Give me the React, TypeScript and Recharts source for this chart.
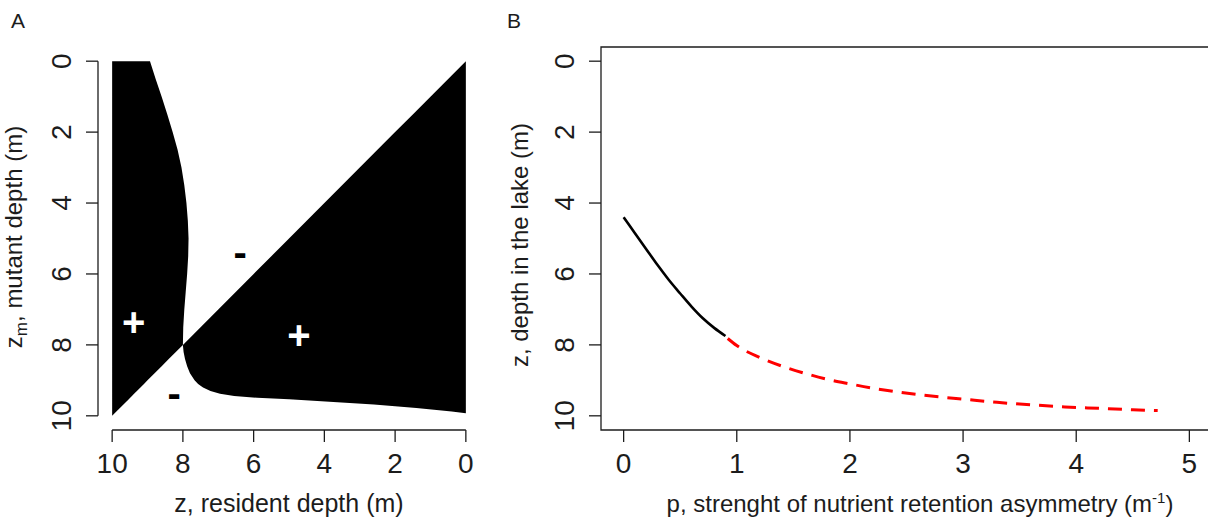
import React from 'react';
import {
  ComposedChart,
  Area,
  Line,
  XAxis,
  YAxis,
  ReferenceLine,
  ReferenceDot,
  ReferenceArea,
} from 'recharts';

const FONT = '"Liberation Sans", Arial, Helvetica, sans-serif';
const INK = '#1c1c1c';

// ---- Panel A: pairwise invasibility plot, sampled along mutant depth zm ----
const mutantDepth = [
  0, 0.5, 1, 1.5, 2, 2.5, 3, 3.5, 4, 4.5, 5, 5.5, 6, 6.5, 7, 7.5, 8,
  8.2, 8.4, 8.6, 8.8, 9.0, 9.1, 9.2, 9.3, 9.38, 9.44, 9.49, 9.53, 9.58, 9.63, 9.68, 9.73,
  9.78, 9.83, 9.88, 9.93, 10,
];
// resident depth where the left "+" region begins (it runs out to z = 10)
const leftRegionEdge = [
  8.93, 8.77, 8.6, 8.44, 8.29, 8.15, 8.04, 7.96, 7.9, 7.86, 7.84, 7.85, 7.88, 7.92, 7.96, 7.99, 8.0,
  8.2, 8.4, 8.6, 8.8, 9.0, 9.1, 9.2, 9.3, 9.38, 9.44, 9.49, 9.53, 9.58, 9.63, 9.68, 9.73,
  9.78, 9.83, 9.88, 9.93, 10,
];
// resident depth where the right "+" region ends (it starts at z = 0)
const rightRegionEdge = [
  0, 0.5, 1, 1.5, 2, 2.5, 3, 3.5, 4, 4.5, 5, 5.5, 6, 6.5, 7, 7.5, 8,
  7.98, 7.94, 7.88, 7.8, 7.67, 7.57, 7.43, 7.22, 6.95, 6.55, 5.9, 5.0, 4.2, 3.4, 2.6, 2.0,
  1.4, 0.9, 0.4, 0.0, 0,
];

const signLabels = [
  { z: 9.39, zm: 7.34, text: '+', color: '#ffffff' },
  { z: 4.72, zm: 7.71, text: '+', color: '#ffffff' },
  { z: 6.38, zm: 5.37, text: '-', color: '#000000' },
  { z: 8.25, zm: 9.34, text: '-', color: '#000000' },
];

// ---- Panel B: singular strategy depth vs retention asymmetry ----
const pStable = [0, 0.1, 0.2, 0.3, 0.4, 0.5, 0.6, 0.7, 0.8, 0.9];
const zStable = [4.4, 4.85, 5.3, 5.75, 6.17, 6.55, 6.92, 7.25, 7.52, 7.75];
const pUnstable = [
  0.92, 1.0, 1.2, 1.4, 1.6, 1.8, 2.0, 2.2, 2.4, 2.6, 2.8, 3.0, 3.3, 3.6, 3.9, 4.2, 4.5, 4.72,
];
const zUnstable = [
  7.82, 8.02, 8.35, 8.6, 8.8, 8.97, 9.1, 9.22, 9.32, 9.4, 9.47, 9.53, 9.62, 9.69, 9.75, 9.79, 9.83, 9.85,
];

const depthTicks = [0, 2, 4, 6, 8, 10];
const pTicks = [0, 1, 2, 3, 4, 5];

const pipRows = mutantDepth.map((zm, i) => ({
  zm,
  left: [leftRegionEdge[i], 10],
  right: [0, rightRegionEdge[i]],
}));
const stableRows = pStable.map((p, i) => ({ p, z: zStable[i] }));
const unstableRows = pUnstable.map((p, i) => ({ p, z: zUnstable[i] }));

const XTick = ({ x, y, payload }: any) => (
  <text x={x} y={y + 31} textAnchor="middle" fontSize={28} fontFamily={FONT} fill={INK}>
    {payload.value}
  </text>
);

const YTick = ({ x, y, payload }: any) => (
  <text
    transform={`translate(${x - 15},${y}) rotate(-90)`}
    textAnchor="middle"
    fontSize={28}
    fontFamily={FONT}
    fill={INK}
  >
    {payload.value}
  </text>
);

const axisStroke = { stroke: INK, strokeWidth: 1.3 };

function PanelA() {
  return (
    <ComposedChart
      layout="vertical"
      width={490}
      height={522}
      data={pipRows}
      margin={{ top: 47, right: 10, bottom: 0, left: 0 }}
    >
      <XAxis
        type="number"
        domain={[-0.4, 10.4]}
        ticks={depthTicks}
        reversed
        allowDataOverflow
        height={92}
        axisLine={false}
        tickSize={12}
        tickMargin={0}
        tickLine={axisStroke}
        tick={<XTick />}
      />
      <YAxis
        type="number"
        dataKey="zm"
        domain={[-0.4, 10.4]}
        ticks={depthTicks}
        allowDataOverflow
        width={98}
        axisLine={false}
        tickSize={12}
        tickMargin={0}
        tickLine={axisStroke}
        tick={<YTick />}
      />
      <Area
        dataKey="left"
        type="linear"
        fill="#000"
        fillOpacity={1}
        stroke="none"
        isAnimationActive={false}
      />
      <Area
        dataKey="right"
        type="linear"
        fill="#000"
        fillOpacity={1}
        stroke="none"
        isAnimationActive={false}
      />
      <ReferenceLine
        segment={[{ x: 10, y: 10.4 }, { x: 0, y: 10.4 }]}
        ifOverflow="visible"
        {...axisStroke}
      />
      <ReferenceLine
        segment={[{ x: 10.4, y: 0 }, { x: 10.4, y: 10 }]}
        ifOverflow="visible"
        {...axisStroke}
      />
      {signLabels.map((s, i) => (
        <ReferenceDot
          key={i}
          x={s.z}
          y={s.zm}
          r={0}
          fill="none"
          stroke="none"
          label={{
            value: s.text,
            position: 'center',
            fill: s.color,
            fontSize: 40,
            fontWeight: 700,
            fontFamily: FONT,
          }}
        />
      ))}
    </ComposedChart>
  );
}

function PanelB() {
  return (
    <ComposedChart width={720} height={522} margin={{ top: 47, right: 8, bottom: 0, left: 0 }}>
      <XAxis
        type="number"
        dataKey="p"
        domain={[-0.2, 5.2]}
        ticks={pTicks}
        allowDataOverflow
        height={92}
        axisLine={false}
        tickSize={12}
        tickMargin={0}
        tickLine={axisStroke}
        tick={<XTick />}
      />
      <YAxis
        type="number"
        domain={[-0.4, 10.4]}
        ticks={depthTicks}
        reversed
        allowDataOverflow
        width={101}
        axisLine={false}
        tickSize={12}
        tickMargin={0}
        tickLine={axisStroke}
        tick={<YTick />}
      />
      <ReferenceArea
        x1={-0.2}
        x2={5.2}
        y1={-0.4}
        y2={10.4}
        fill="none"
        fillOpacity={0}
        ifOverflow="visible"
        {...axisStroke}
      />
      <Line
        data={stableRows}
        dataKey="z"
        type="monotone"
        stroke="#000"
        strokeWidth={2.6}
        dot={false}
        isAnimationActive={false}
      />
      <Line
        data={unstableRows}
        dataKey="z"
        type="monotone"
        stroke="#ff0000"
        strokeWidth={3}
        strokeDasharray="14 9"
        dot={false}
        isAnimationActive={false}
      />
    </ComposedChart>
  );
}

export default function App() {
  const text = { fontFamily: FONT, fill: INK };
  return (
    <div
      style={{
        position: 'absolute',
        left: 0,
        top: 0,
        width: 1208,
        height: 522,
        overflow: 'hidden',
        background: '#fff',
      }}
    >
      <div style={{ position: 'absolute', left: 0, top: 0 }}>
        <PanelA />
      </div>
      <div style={{ position: 'absolute', left: 500, top: 0 }}>
        <PanelB />
      </div>
      <svg
        width={1208}
        height={522}
        style={{ position: 'absolute', left: 0, top: 0, pointerEvents: 'none' }}
      >
        <text x={11} y={28} fontSize={21} {...text}>A</text>
        <text x={507} y={28} fontSize={21} {...text}>B</text>

        <text x={289} y={512} fontSize={25} textAnchor="middle" {...text}>
          z, resident depth (m)
        </text>
        <text transform="translate(22,237) rotate(-90)" fontSize={24} textAnchor="middle" {...text}>
          z<tspan dy={5} fontSize={17}>m</tspan>
          <tspan dy={-5}>, mutant depth (m)</tspan>
        </text>

        <text x={920} y={512} fontSize={24} textAnchor="middle" {...text}>
          p, strenght of nutrient retention asymmetry (m
          <tspan dy={-9} fontSize={15}>-1</tspan>
          <tspan dy={9}>)</tspan>
        </text>
        <text transform="translate(528,245) rotate(-90)" fontSize={24} textAnchor="middle" {...text}>
          z, depth in the lake (m)
        </text>
      </svg>
    </div>
  );
}
